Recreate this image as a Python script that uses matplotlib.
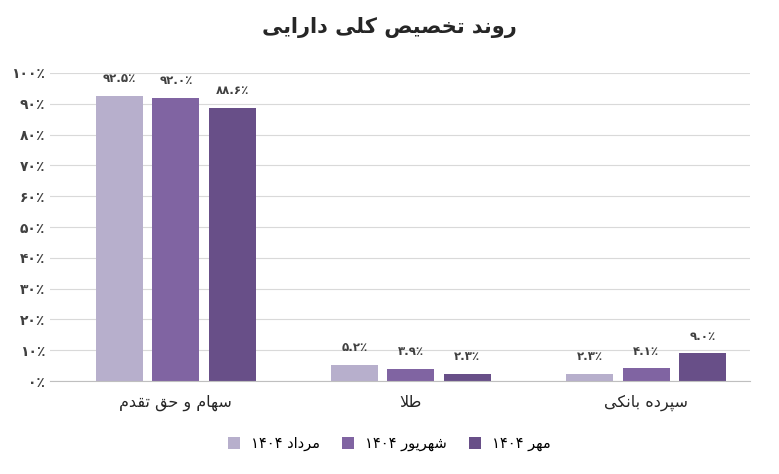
import matplotlib
matplotlib.use("Agg")
import matplotlib.pyplot as plt
import numpy as np

categories = ["سهام و حق تقدم", "طلا", "سپرده بانکی"]
series_names = ["مرداد ۱۴۰۴", "شهریور ۱۴۰۴", "مهر ۱۴۰۴"]
mordad = [92.5, 5.2, 2.3]
shahrivar = [92.0, 3.9, 4.1]
mehr = [88.6, 2.3, 9.0]
title = "روند تخصیص کلی دارایی"
colors = ["#B7AFCC", "#8064A2", "#684F88"]

FORMS = {
    'ا': (0xFE8D, 0xFE8E, None, None), 'د': (0xFEA9, 0xFEAA, None, None),
    'ر': (0xFEAD, 0xFEAE, None, None), 'و': (0xFEED, 0xFEEE, None, None),
    'ب': (0xFE8F, 0xFE90, 0xFE91, 0xFE92), 'ت': (0xFE95, 0xFE96, 0xFE97, 0xFE98),
    'ح': (0xFEA1, 0xFEA2, 0xFEA3, 0xFEA4), 'خ': (0xFEA5, 0xFEA6, 0xFEA7, 0xFEA8),
    'س': (0xFEB1, 0xFEB2, 0xFEB3, 0xFEB4), 'ش': (0xFEB5, 0xFEB6, 0xFEB7, 0xFEB8),
    'ص': (0xFEB9, 0xFEBA, 0xFEBB, 0xFEBC), 'ط': (0xFEC1, 0xFEC2, 0xFEC3, 0xFEC4),
    'ق': (0xFED5, 0xFED6, 0xFED7, 0xFED8), 'ل': (0xFEDD, 0xFEDE, 0xFEDF, 0xFEE0),
    'م': (0xFEE1, 0xFEE2, 0xFEE3, 0xFEE4), 'ن': (0xFEE5, 0xFEE6, 0xFEE7, 0xFEE8),
    'ه': (0xFEE9, 0xFEEA, 0xFEEB, 0xFEEC), 'ی': (0xFBFC, 0xFBFD, 0xFBFE, 0xFBFF),
    'ک': (0xFB8E, 0xFB8F, 0xFB90, 0xFB91), 'پ': (0xFB56, 0xFB57, 0xFB58, 0xFB59),
}

def joins_next(c):
    return c in FORMS and FORMS[c][2] is not None

def shape_word(w):
    out = []
    i = 0
    n = len(w)
    while i < n:
        c = w[i]
        prev = w[i-1] if i > 0 else None
        jp = prev is not None and joins_next(prev)
        if c == 'ل' and i + 1 < n and w[i+1] == 'ا':
            out.append(chr(0xFEFC if jp else 0xFEFB)); i += 2; continue
        if c not in FORMS:
            out.append(c); i += 1; continue
        nxt = w[i+1] if i + 1 < n else None
        jn = joins_next(c) and nxt is not None and nxt in FORMS
        iso, fin, ini, med = FORMS[c]
        if jp and jn: f = med
        elif jp: f = fin
        elif jn: f = ini
        else: f = iso
        out.append(chr(f)); i += 1
    return "".join(out)

def rtl(s):
    words = s.split(" ")
    res = []
    for w in reversed(words):
        if any(ch in FORMS for ch in w):
            res.append(shape_word(w)[::-1])
        else:
            res.append(w)
    return " ".join(res)

def fa(x, dec=1):
    s = f"{x:.{dec}f}" if dec else f"{x:.0f}"
    return s.translate(str.maketrans("0123456789.", "۰۱۲۳۴۵۶۷۸۹.")) + "٪"

plt.rcParams['font.family'] = ['DejaVu Sans']
fig, ax = plt.subplots(figsize=(7.79, 4.74), dpi=100)
fig.subplots_adjust(left=0.064, right=0.963, top=0.846, bottom=0.196)

x = np.arange(len(categories))
w = 0.2
step = 0.24
for i, (vals, c, name) in enumerate(zip([mordad, shahrivar, mehr], colors, series_names)):
    pos = x + (i - 1) * step
    ax.bar(pos, vals, w, color=c, label=rtl(name))
    for p, v in zip(pos, vals):
        ax.text(p, v + 3.5, fa(v), ha='center', va='bottom', fontsize=8.5,
                color='#404040', fontweight='bold')

ax.set_ylim(0, 100)
ax.set_xlim(-0.536, 2.443)
ax.set_yticks(range(0, 101, 10))
ax.set_yticklabels([fa(t, 0) for t in range(0, 101, 10)], fontsize=10,
                   color='#404040', fontweight='bold')
ax.set_xticks(x)
ax.set_xticklabels([rtl(c) for c in categories], fontsize=11.5, color='#262626')
ax.tick_params(length=0)
ax.tick_params(axis='x', pad=10)
ax.grid(axis='y', color='#D9D9D9', linewidth=0.8)
ax.set_axisbelow(True)
for s in ['top', 'right', 'left']:
    ax.spines[s].set_visible(False)
ax.spines['bottom'].set_color('#BFBFBF')

fig.suptitle(rtl(title), fontsize=15, fontweight='bold', color='#262626', y=0.965)
fig.legend(loc='lower center', ncol=3, frameon=False, fontsize=10.5,
           bbox_to_anchor=(0.5, 0.02), handlelength=0.8, handleheight=0.8, columnspacing=1.5)
fig.savefig("out.png", dpi=100)
